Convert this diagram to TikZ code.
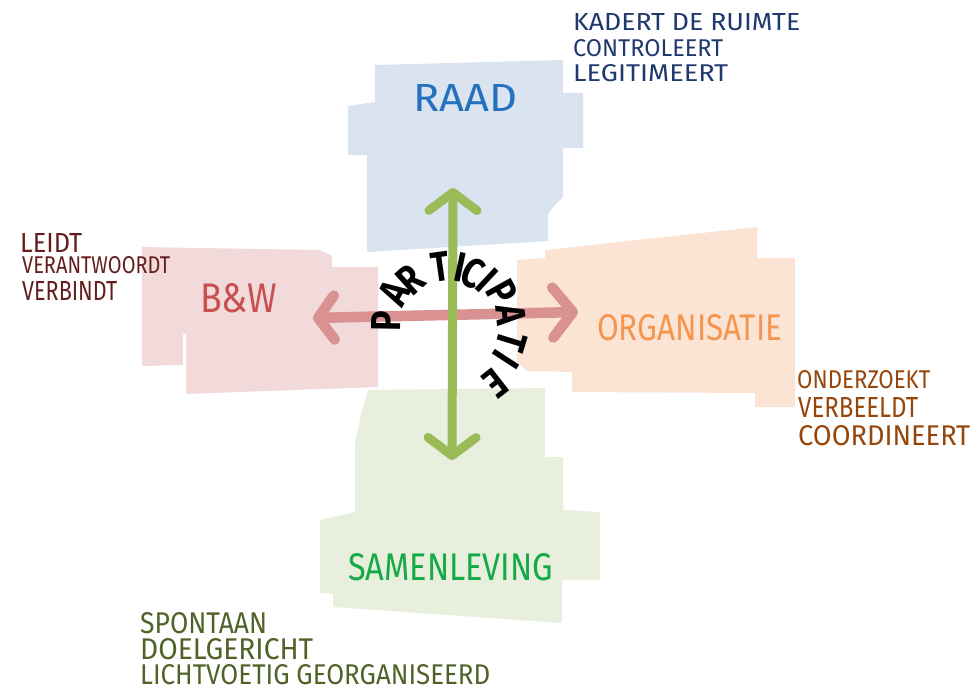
\documentclass[tikz,border=0pt]{standalone}
\usepackage{fontspec}
\setmainfont{Fira Sans}
\usepackage{graphicx}
\usetikzlibrary{arrows.meta}
\definecolor{boxblue}{RGB}{218,227,240}
\definecolor{boxpink}{RGB}{242,218,218}
\definecolor{boxpeach}{RGB}{252,228,212}
\definecolor{boxgreen}{RGB}{232,239,220}
\definecolor{raadc}{RGB}{38,113,190}
\definecolor{navyc}{RGB}{31,56,110}
\definecolor{bwc}{RGB}{200,80,80}
\definecolor{maroonc}{RGB}{100,30,30}
\definecolor{orgc}{RGB}{245,150,80}
\definecolor{brownc}{RGB}{150,70,10}
\definecolor{samc}{RGB}{20,170,70}
\definecolor{olivec}{RGB}{80,98,40}
\definecolor{arrred}{RGB}{217,145,145}
\definecolor{arrgreen}{RGB}{155,187,89}
\newcommand{\mytxt}[3]{\resizebox{#1pt}{#2pt}{#3}}
\newcommand{\myletter}[1]{\scalebox{0.8}[1]{\fontsize{42}{42}\selectfont\bfseries #1}}
\begin{document}
\begin{tikzpicture}[x=1pt,y=-1pt,
  txt/.style={inner sep=0pt, anchor=base west},
  ptxt/.style={inner sep=0pt},
  redarr/.style={draw=arrred, line width=10.5pt, line cap=round,
    {Straight Barb[length=16pt,width=44pt,round]}-{Straight Barb[length=20pt,width=50pt,round]}},
  grnarr/.style={draw=arrgreen, line width=9pt, line cap=round,
    {Straight Barb[length=18pt,width=48pt,round]}-{Straight Barb[length=18pt,width=48pt,round]}}]
\useasboundingbox (0,0) rectangle (976,690);
% boxes
\fill[boxblue] (375,65) -- (563,60) -- (563,93) -- (583,93) -- (583,148) -- (563,148) -- (563,197) -- (553,207) -- (548,215) -- (548,241) -- (367,252) -- (367,155) -- (348,155) -- (348,106) -- (375,102) -- cycle;
\fill[boxpink] (142,247) -- (320,250) -- (332,256) -- (332,267) -- (378,267) -- (378,387) -- (186,394) -- (186,334) -- (183,334) -- (183,365) -- (142,366) -- cycle;
\fill[boxpeach] (545,250) -- (757,227) -- (757,258) -- (795,258) -- (795,407) -- (755,407) -- (755,393) -- (572,392) -- (572,372) -- (527,371) -- (517,362) -- (517,260) -- (545,258) -- cycle;
\fill[boxgreen] (368,390) -- (545,388) -- (545,457) -- (563,457) -- (563,510) -- (600,512) -- (600,580) -- (562,580) -- (562,623) -- (333,607) -- (333,594) -- (320,593) -- (320,520) -- (355,512) -- (355,443) -- (362,410) -- cycle;
% arrows
\coordinate (rl) at (313,318);
\coordinate (rr) at (578,312);
\coordinate (gt) at (453,188);
\coordinate (gb) at (452,460);
\draw[redarr] (rl) -- (rr);
\draw[grnarr] (gt) -- (gb);
% PARTICIPATIE along the arc
\foreach \L/\px/\py/\a [count=\i] in {P/386/321/89, A/394/293/62, R/410/280/42, T/440/267/8, I/460/267/-12, C/473/273/-27, I/487/280/-43, P/502/292/-61, A/511/315/-84, T/512/341/-107, I/506/360/-123, E/495/383/-142}
  \node[ptxt, rotate=\a] (p\i) at (\px,\py) {\myletter{\L}};
% labels
\node[txt, text=raadc] (raad) at (413,112) {\mytxt{104}{27}{RAAD}};
\node[txt, text=navyc] (k1) at (573,31) {\mytxt{227}{17}{KADERT DE RUIMTE}};
\node[txt, text=navyc] (k2) at (573,57) {\mytxt{150}{17}{CONTROLEERT}};
\node[txt, text=navyc] (k3) at (573,82) {\mytxt{155}{17}{LEGITIMEERT}};
\node[txt, text=bwc] (bw) at (200,312) {\mytxt{77}{29}{B\&W}};
\node[txt, text=maroonc] (l1) at (20,252) {\mytxt{62}{19}{LEIDT}};
\node[txt, text=maroonc] (l2) at (22,273) {\mytxt{148}{17}{VERANTWOORDT}};
\node[txt, text=maroonc] (l3) at (22,300) {\mytxt{95}{19}{VERBINDT}};
\node[txt, text=orgc] (org) at (597,340) {\mytxt{185}{26}{ORGANISATIE}};
\node[txt, text=brownc] (o1) at (797,388) {\mytxt{133}{18}{ONDERZOEKT}};
\node[txt, text=brownc] (o2) at (798,417) {\mytxt{120}{20}{VERBEELDT}};
\node[txt, text=brownc] (o3) at (798,445) {\mytxt{172}{20}{COORDINEERT}};
\node[txt, text=samc] (sam) at (348,580) {\mytxt{205}{27}{SAMENLEVING}};
\node[txt, text=olivec] (s1) at (140,633) {\mytxt{127}{21}{SPONTAAN}};
\node[txt, text=olivec] (s2) at (140,659) {\mytxt{173}{21}{DOELGERICHT}};
\node[txt, text=olivec] (s3) at (140,684) {\mytxt{350}{20}{LICHTVOETIG GEORGANISEERD}};
\end{tikzpicture}
\end{document}
